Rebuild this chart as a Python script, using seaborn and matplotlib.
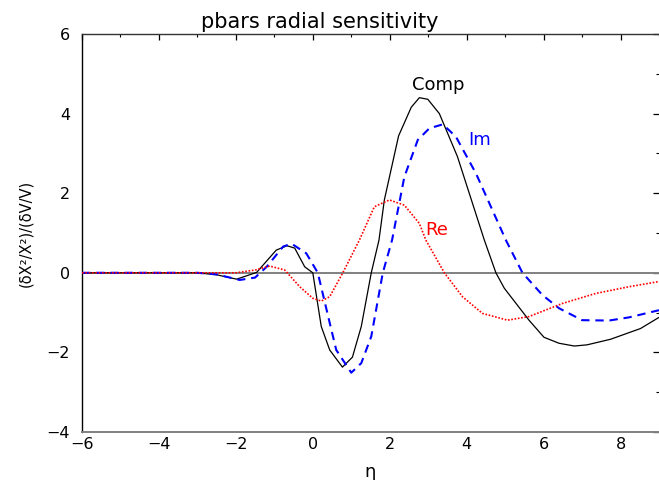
import matplotlib
matplotlib.use("Agg")
import matplotlib.pyplot as plt
import seaborn as sns
from matplotlib.ticker import MultipleLocator

sns.set_theme(style="white")
plt.rcParams['font.family'] = ['DejaVu Sans']

# ---- data ----
comp_x = [-6, -5, -4, -3, -2.5, -1.98, -1.46, -0.95, -0.67, -0.47, -0.21, 0.0, 0.22, 0.44,
          0.77, 1.03, 1.26, 1.52, 1.72, 1.86, 2.23, 2.56, 2.77, 2.99, 3.29, 3.76, 4.46,
          4.76, 4.98, 5.62, 6.01, 6.40, 6.80, 7.13, 7.74, 8.52, 9.0]
comp_y = [0, 0, 0, 0, -0.05, -0.16, 0.01, 0.57, 0.68, 0.62, 0.15, 0.0, -1.35, -1.94,
          -2.37, -2.12, -1.35, 0.0, 0.82, 1.83, 3.44, 4.16, 4.40, 4.36, 4.0, 2.92, 0.82,
          0.0, -0.39, -1.19, -1.62, -1.77, -1.84, -1.81, -1.67, -1.40, -1.12]

im_x = [-6, -5, -4, -3, -2.5, -1.9, -1.5, -1.2, -0.77, -0.55, -0.17, 0.13, 0.44, 0.61,
        1.0, 1.26, 1.52, 1.82, 2.06, 2.38, 2.73, 3.03, 3.38, 3.72, 4.24, 5.02, 5.45,
        5.97, 6.40, 7.0, 7.7, 8.22, 9.0]
im_y = [0, 0, 0, 0, -0.04, -0.18, -0.12, 0.15, 0.66, 0.73, 0.49, 0.0, -1.26, -1.94,
        -2.51, -2.27, -1.6, 0.0, 0.82, 2.41, 3.34, 3.63, 3.73, 3.42, 2.5, 0.82, 0.0,
        -0.56, -0.89, -1.19, -1.2, -1.12, -0.94]

re_x = [-6, -5, -4, -3, -2.5, -2.0, -1.5, -1.12, -0.73, -0.34, 0.0, 0.22, 0.44, 0.78,
        1.21, 1.6, 1.99, 2.38, 2.77, 2.94, 3.42, 3.89, 4.41, 5.06, 5.62, 6.49, 7.35,
        8.22, 9.0]
re_y = [0, 0, 0, 0, 0, 0.0, 0.07, 0.17, 0.07, -0.35, -0.64, -0.71, -0.6, 0.0,
        0.82, 1.66, 1.83, 1.70, 1.24, 0.82, 0.0, -0.6, -1.02, -1.19, -1.1, -0.77, -0.52,
        -0.35, -0.22]

title = "pbars radial sensitivity"
xlabel = "η"
ylabel = "(δX²/X²)/(δV/V)"

fig = plt.figure(figsize=(6.59, 4.80), dpi=100)
ax = fig.add_axes([82 / 659, 48 / 480, 1 - 82 / 659, (432 - 34) / 480])

ax.axhline(0, color="#808080", lw=1.4, zorder=1)

sns.lineplot(x=comp_x, y=comp_y, ax=ax, color="black", lw=0.9, sort=False,
             estimator=None, zorder=3)
sns.lineplot(x=im_x, y=im_y, ax=ax, color="#0000ff", lw=1.5, sort=False,
             estimator=None, zorder=3, linestyle=(0, (4, 2.8)))
sns.lineplot(x=re_x, y=re_y, ax=ax, color="#ff0000", lw=1.2, sort=False,
             estimator=None, zorder=3, linestyle=(0, (1, 1)))

ax.text(3.25, 4.72, "Comp", color="black", fontsize=13, ha="center", va="center")
ax.text(4.34, 3.34, "Im", color="#0000ff", fontsize=13, ha="center", va="center")
ax.text(3.22, 1.07, "Re", color="#ff0000", fontsize=13, ha="center", va="center")

ax.set_xlim(-6, 9)
ax.set_ylim(-4, 6)
ax.xaxis.set_major_locator(MultipleLocator(2))
ax.xaxis.set_minor_locator(MultipleLocator(1))
ax.yaxis.set_major_locator(MultipleLocator(2))
ax.yaxis.set_minor_locator(MultipleLocator(1))
ax.tick_params(which="both", direction="in", top=True, right=True,
               labelsize=11.5, colors="black")
ax.tick_params(axis="y", pad=8.5)
ax.tick_params(axis="x", pad=3.5)
ax.tick_params(which="major", length=4.5, width=0.9)
ax.tick_params(which="minor", length=2.5, width=0.8)

ax.spines["left"].set_color("black")
ax.spines["top"].set_color("#333333")
ax.spines["bottom"].set_color("#808080")
ax.spines["bottom"].set_linewidth(1.4)
ax.spines["right"].set_visible(False)
for s in ["left", "top"]:
    ax.spines[s].set_linewidth(1.0)

ax.set_title(title, fontsize=15, color="black", pad=4, x=(320 - 82) / 577)
ax.set_xlabel(xlabel, fontsize=13, color="black", labelpad=8)
ax.set_ylabel(ylabel, fontsize=10.5, color="black", labelpad=10)
ax.set_facecolor("white")
fig.patch.set_facecolor("white")

fig.savefig("out.png", dpi=100)
